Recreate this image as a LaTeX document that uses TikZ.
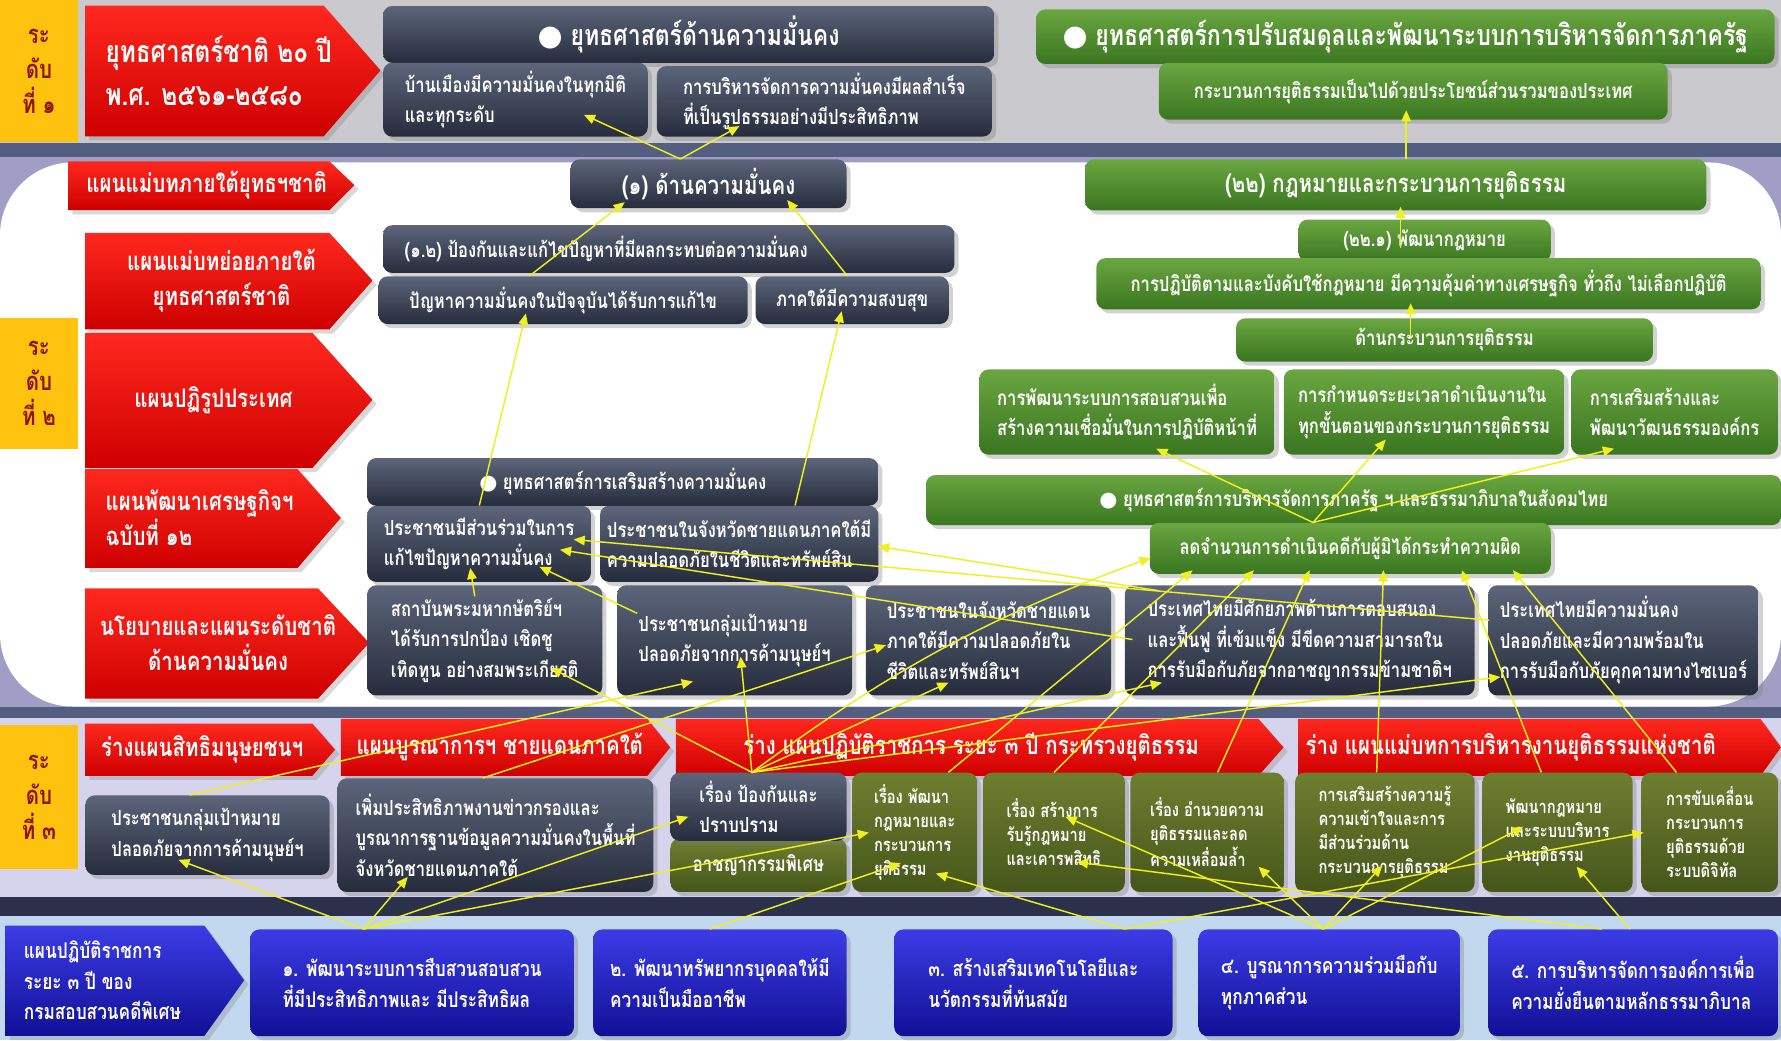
\documentclass[tikz,border=0pt]{standalone}
\usepackage{fontspec}
\setmainfont[Script=Thai,FakeStretch=0.8]{Loma}
\newfontfamily\symfnt{DejaVu Sans}
\usetikzlibrary{calc,shadows,arrows.meta}
\definecolor{bandgray}{RGB}{201,201,206}
\definecolor{bandline}{RGB}{84,94,128}
\definecolor{lavender}{RGB}{160,158,196}
\definecolor{bandthree}{RGB}{214,212,236}
\definecolor{navyline}{RGB}{43,49,74}
\definecolor{bandfour}{RGB}{193,216,238}
\definecolor{darktop}{RGB}{92,101,122}
\definecolor{darkbot}{RGB}{38,44,60}
\definecolor{greentop}{RGB}{106,166,64}
\definecolor{greenbot}{RGB}{58,118,32}
\definecolor{olivetop}{RGB}{110,126,48}
\definecolor{olivebot}{RGB}{70,86,26}
\definecolor{bluetop}{RGB}{60,60,230}
\definecolor{bluebot}{RGB}{16,16,150}
\definecolor{redtop}{RGB}{255,40,30}
\definecolor{redbot}{RGB}{205,0,0}
\definecolor{levelyellow}{RGB}{255,194,14}
\definecolor{leveltext}{RGB}{140,20,0}
\definecolor{linkyellow}{RGB}{240,240,30}
\newdimen\pu \pu=0.025cm
\newcommand{\fntBig}{\bfseries\fontsize{19}{27}\selectfont}
\newcommand{\fntHead}{\bfseries\fontsize{18}{22}\selectfont}
\newcommand{\fntTag}{\bfseries\fontsize{16}{22}\selectfont}
\newcommand{\fntMid}{\bfseries\fontsize{13.5}{19}\selectfont}
\newcommand{\fntBox}{\bfseries\fontsize{13}{19}\selectfont}
\newcommand{\fntSmall}{\bfseries\fontsize{11.5}{15}\selectfont}
\newcommand{\numdot}{{\symfnt ●}\ }
\tikzset{
  box/.style={rounded corners=0.2cm, anchor=north west, inner xsep=6\pu, inner ysep=1\pu,
    text=white, font=\fntBox, align=left, drop shadow={opacity=0.35}},
  darkbox/.style={box, top color=darktop, bottom color=darkbot},
  greenbox/.style={box, top color=greentop, bottom color=greenbot},
  olivebox/.style={box, top color=olivetop, bottom color=olivebot, font=\fntSmall},
  bluebox/.style={box, top color=bluetop, bottom color=bluebot, font=\fntMid},
  headbox/.style={align=center, font=\fntHead},
  levelbox/.style={anchor=north west, fill=levelyellow, text=leveltext, font=\fntTag, align=center, inner sep=0pt},
  redtag/.style={top color=redtop, bottom color=redbot, drop shadow={opacity=0.3}},
  bluetag/.style={top color=bluetop, bottom color=bluebot, drop shadow={opacity=0.3}},
  tagtext/.style={text=white, font=\fntTag, align=center},
  link/.style={draw=linkyellow, line width=0.9pt, -{Triangle[length=7pt,width=6pt]}},
}
\begin{document}
\begin{tikzpicture}[x=\pu, y=-\pu]
\useasboundingbox (0,0) rectangle (1568,916);
% bands
\fill[bandgray] (0,0) rectangle (1568,130);
\fill[bandline] (0,126) rectangle (1568,140);
\fill[lavender] (0,138) rectangle (1568,628);
\fill[white, rounded corners=1.6cm] (0,143) rectangle (1568,622);
\fill[bandline] (0,622) rectangle (1568,632);
\fill[bandthree] (0,632) rectangle (1568,790);
\fill[navyline] (0,790) rectangle (1568,806);
\fill[bandfour] (0,806) rectangle (1568,916);

% level 1
\node (lvA) [levelbox, minimum width=68\pu, minimum height=125\pu] at (0,0) {ระ\\ดับ\\ที่ ๑};
\shade[redtag] (75,5) -- (285,5) -- (335,62) -- (285,120) -- (75,120) -- cycle;
\node (tagA) [tagtext, anchor=west, align=left, font=\fntBig] at (88,62) {ยุทธศาสตร์ชาติ ๒๐ ปี\\พ.ศ. ๒๕๖๑-๒๕๘๐};
\node (secHead) [darkbox, headbox, minimum width=538\pu, minimum height=50\pu] at (337,5) {\numdot ยุทธศาสตร์ด้านความมั่นคง};
\node (secS1) [darkbox, minimum width=233\pu, minimum height=65\pu] at (337,55) {บ้านเมืองมีความมั่นคงในทุกมิติ\\และทุกระดับ};
\node (secS2) [darkbox, minimum width=295\pu, minimum height=62\pu] at (578,58) {การบริหารจัดการความมั่นคงมีผลสำเร็จ\\ที่เป็นรูปธรรมอย่างมีประสิทธิภาพ};
\node (balHead) [greenbox, headbox, minimum width=650\pu, minimum height=48\pu] at (912,8) {\numdot ยุทธศาสตร์การปรับสมดุลและพัฒนาระบบการบริหารจัดการภาครัฐ};
\node (balS) [greenbox, align=center, minimum width=448\pu, minimum height=50\pu] at (1020,55) {กระบวนการยุติธรรมเป็นไปด้วยประโยชน์ส่วนรวมของประเทศ};

% level 2
\node (lvB) [levelbox, minimum width=68\pu, minimum height=115\pu] at (0,280) {ระ\\ดับ\\ที่ ๒};
\shade[redtag] (60,142) -- (290,142) -- (312,163) -- (290,185) -- (60,185) -- cycle;
\node (tagB1) [tagtext] at (182,163) {แผนแม่บทภายใต้ยุทธฯชาติ};
\shade[redtag] (75,205) -- (290,205) -- (328,247) -- (290,290) -- (75,290) -- cycle;
\node (tagB2) [tagtext] at (195,247) {แผนแม่บทย่อยภายใต้\\ยุทธศาสตร์ชาติ};
\shade[redtag] (75,293) -- (275,293) -- (328,352) -- (275,412) -- (75,412) -- cycle;
\node (tagB3) [tagtext] at (188,352) {แผนปฏิรูปประเทศ};
\shade[redtag] (75,413) -- (262,413) -- (300,456) -- (262,500) -- (75,500) -- cycle;
\node (tagB4) [tagtext, anchor=west, align=left] at (88,456) {แผนพัฒนาเศรษฐกิจฯ\\ฉบับที่ ๑๒};
\shade[redtag] (75,518) -- (280,518) -- (325,566) -- (280,615) -- (75,615) -- cycle;
\node (tagB5) [tagtext] at (192,566) {นโยบายและแผนระดับชาติ\\ด้านความมั่นคง};

\node (sec1) [darkbox, align=center, font=\fntTag, minimum width=243\pu, minimum height=43\pu] at (502,140) {(๑) ด้านความมั่นคง};
\node (sec12) [darkbox, minimum width=503\pu, minimum height=42\pu] at (337,198) {(๑.๒) ป้องกันและแก้ไขปัญหาที่มีผลกระทบต่อความมั่นคง\hspace{110\pu}};
\node (sec12a) [darkbox, minimum width=325\pu, minimum height=42\pu] at (333,243) {ปัญหาความมั่นคงในปัจจุบันได้รับการแก้ไข};
\node (sec12b) [darkbox, minimum width=170\pu, minimum height=42\pu] at (665,243) {ภาคใต้มีความสงบสุข};
\node (strHead) [darkbox, align=center, minimum width=450\pu, minimum height=42\pu] at (323,403) {\numdot ยุทธศาสตร์การเสริมสร้างความมั่นคง};
\node (strA) [darkbox, minimum width=197\pu, minimum height=67\pu] at (323,445) {ประชาชนมีส่วนร่วมในการ\\แก้ไขปัญหาความมั่นคง};
\node (strB) [darkbox, minimum width=245\pu, minimum height=67\pu] at (528,445) {ประชาชนในจังหวัดชายแดนภาคใต้มี\\ความปลอดภัยในชีวิตและทรัพย์สิน};
\node (natA) [darkbox, minimum width=207\pu, minimum height=97\pu] at (323,515) {สถาบันพระมหากษัตริย์ฯ\\ได้รับการปกป้อง เชิดชู\\เทิดทูน อย่างสมพระเกียรติ};
\node (natB) [darkbox, minimum width=207\pu, minimum height=97\pu] at (543,515) {ประชาชนกลุ่มเป้าหมาย\\ปลอดภัยจากการค้ามนุษย์ฯ};
\node (natC) [darkbox, minimum width=216\pu, minimum height=97\pu] at (762,515) {ประชาชนในจังหวัดชายแดน\\ภาคใต้มีความปลอดภัยใน\\ชีวิตและทรัพย์สินฯ};
\node (natD) [darkbox, minimum width=308\pu, minimum height=97\pu] at (990,515) {ประเทศไทยมีศักยภาพด้านการตอบสนอง\\และฟื้นฟู ที่เข้มแข็ง มีขีดความสามารถใน\\การรับมือกับภัยจากอาชญากรรมข้ามชาติฯ};
\node (natE) [darkbox, minimum width=238\pu, minimum height=97\pu] at (1310,515) {ประเทศไทยมีความมั่นคง\\ปลอดภัยและมีความพร้อมใน\\การรับมือกับภัยคุกคามทางไซเบอร์};

\node (law22) [greenbox, align=center, font=\fntTag, minimum width=547\pu, minimum height=45\pu] at (955,140) {(๒๒) กฎหมายและกระบวนการยุติธรรม};
\node (law221) [greenbox, align=center, minimum width=222\pu, minimum height=37\pu] at (1143,193) {(๒๒.๑) พัฒนากฎหมาย};
\node (lawObj) [greenbox, align=center, minimum width=585\pu, minimum height=45\pu] at (965,227) {การปฏิบัติตามและบังคับใช้กฎหมาย มีความคุ้มค่าทางเศรษฐกิจ ทั่วถึง ไม่เลือกปฏิบัติ};
\node (lawProc) [greenbox, align=center, minimum width=367\pu, minimum height=38\pu] at (1088,280) {ด้านกระบวนการยุติธรรม};
\node (jusA) [greenbox, minimum width=260\pu, minimum height=75\pu] at (862,325) {การพัฒนาระบบการสอบสวนเพื่อ\\สร้างความเชื่อมั่นในการปฏิบัติหน้าที่};
\node (jusB) [greenbox, minimum width=247\pu, minimum height=75\pu] at (1130,325) {การกำหนดระยะเวลาดำเนินงานใน\\ทุกขั้นตอนของกระบวนการยุติธรรม};
\node (jusC) [greenbox, minimum width=182\pu, minimum height=75\pu] at (1383,325) {การเสริมสร้างและ\\พัฒนาวัฒนธรรมองค์กร};
\node (govHead) [greenbox, align=center, minimum width=753\pu, minimum height=44\pu] at (815,418) {\numdot ยุทธศาสตร์การบริหารจัดการภาครัฐ ฯ และธรรมาภิบาลในสังคมไทย};
\node (govA) [greenbox, align=center, minimum width=353\pu, minimum height=45\pu] at (1012,460) {ลดจำนวนการดำเนินคดีกับผู้มิได้กระทำความผิด};

% level 3
\node (lvC) [levelbox, minimum width=68\pu, minimum height=127\pu] at (0,638) {ระ\\ดับ\\ที่ ๓};
\shade[redtag] (75,637) -- (275,637) -- (295,660) -- (275,683) -- (75,683) -- cycle;
\node (tagC1) [tagtext] at (178,660) {ร่างแผนสิทธิมนุษยชนฯ};
\shade[redtag] (300,633) -- (570,633) -- (590,658) -- (570,683) -- (300,683) -- cycle;
\node (tagC2) [tagtext] at (440,658) {แผนบูรณาการฯ ชายแดนภาคใต้};
\shade[redtag] (595,633) -- (1108,633) -- (1130,658) -- (1108,683) -- (595,683) -- cycle;
\node (tagC3) [tagtext] at (855,658) {ร่าง แผนปฏิบัติราชการ ระยะ ๓ ปี กระทรวงยุติธรรม};
\shade[redtag] (1143,633) -- (1550,633) -- (1568,658) -- (1550,683) -- (1143,683) -- cycle;
\node (tagC4) [tagtext] at (1330,658) {ร่าง แผนแม่บทการบริหารงานยุติธรรมแห่งชาติ};

\node (hrA) [darkbox, minimum width=215\pu, minimum height=70\pu] at (75,700) {ประชาชนกลุ่มเป้าหมาย\\ปลอดภัยจากการค้ามนุษย์ฯ};
\node (intA) [darkbox, minimum width=278\pu, minimum height=100\pu] at (297,685) {เพิ่มประสิทธิภาพงานข่าวกรองและ\\บูรณาการฐานข้อมูลความมั่นคงในพื้นที่\\จังหวัดชายแดนภาคใต้};
\node (mojA2) [olivebox, font=\fntBox, align=center, minimum width=155\pu, minimum height=47\pu] at (590,738) {อาชญากรรมพิเศษ};
\node (mojA) [darkbox, minimum width=155\pu, minimum height=60\pu] at (590,680) {เรื่อง ป้องกันและ\\ปราบปราม\hspace{20\pu}};
\node (mojB) [olivebox, minimum width=110\pu, minimum height=105\pu] at (750,680) {เรื่อง พัฒนา\\กฎหมายและ\\กระบวนการ\\ยุติธรรม};
\node (mojC) [olivebox, minimum width=125\pu, minimum height=105\pu] at (865,680) {เรื่อง สร้างการ\\รับรู้กฎหมาย\\และเคารพสิทธิ};
\node (mojD) [olivebox, minimum width=135\pu, minimum height=105\pu] at (995,680) {เรื่อง อำนวยความ\\ยุติธรรมและลด\\ความเหลื่อมล้ำ};
\node (njA) [olivebox, minimum width=158\pu, minimum height=105\pu] at (1140,680) {การเสริมสร้างความรู้\\ความเข้าใจและการ\\มีส่วนร่วมด้าน\\กระบวนการยุติธรรม};
\node (njB) [olivebox, minimum width=132\pu, minimum height=105\pu] at (1305,680) {พัฒนากฎหมาย\\และระบบบริหาร\\งานยุติธรรม};
\node (njC) [olivebox, minimum width=120\pu, minimum height=105\pu] at (1445,680) {การขับเคลื่อน\\กระบวนการ\\ยุติธรรมด้วย\\ระบบดิจิทัล};

% DSI action plan
\shade[bluetag] (5,815) -- (180,815) -- (215,863) -- (180,912) -- (5,912) -- cycle;
\node (tagD) [tagtext, font=\fntMid, anchor=west, align=left] at (16,863) {แผนปฏิบัติราชการ\\ระยะ ๓ ปี ของ\\กรมสอบสวนคดีพิเศษ};
\node (dsi1) [bluebox, minimum width=285\pu, minimum height=94\pu] at (220,818) {๑. พัฒนาระบบการสืบสวนสอบสวน\\ที่มีประสิทธิภาพและ มีประสิทธิผล};
\node (dsi2) [bluebox, minimum width=223\pu, minimum height=94\pu] at (522,818) {๒. พัฒนาทรัพยากรบุคคลให้มี\\ความเป็นมืออาชีพ};
\node (dsi3) [bluebox, minimum width=245\pu, minimum height=94\pu] at (787,818) {๓. สร้างเสริมเทคโนโลยีและ\\นวัตกรรมที่ทันสมัย};
\node (dsi4) [bluebox, minimum width=230\pu, minimum height=94\pu] at (1055,818) {๔. บูรณาการความร่วมมือกับ\\ทุกภาคส่วน};
\node (dsi5) [bluebox, minimum width=255\pu, minimum height=94\pu] at (1310,818) {๕. การบริหารจัดการองค์การเพื่อ\\ความยั่งยืนตามหลักธรรมาภิบาล};

% links, top part
\draw [link] ($(sec1.north west)+(97,0)$) -- ($(secS1.north west)+(177,46)$);
\draw [link] ($(sec1.north west)+(97,0)$) -- ($(secS2.north west)+(73,53)$);
\draw [link] ($(law22.north west)+(283,0)$) -- ($(balS.north west)+(218,42)$);
\draw [link] ($(sec12a.north west)+(133,0)$) -- ($(sec1.north west)+(48,38)$);
\draw [link] ($(sec12b.north west)+(81,0)$) -- ($(sec1.north west)+(191,36)$);
\draw [link] ($(strA.north west)+(99,0)$) -- ($(sec12a.north west)+(130,33)$);
\draw [link] ($(strB.north west)+(172,0)$) -- ($(sec12b.north west)+(76,31)$);
\draw [link] ($(law221.north west)+(90,25)$) -- ($(law22.north west)+(278,42)$);
\draw [link] ($(lawProc.north west)+(154,17)$) -- ($(lawObj.north west)+(277,40)$);
\draw [link] ($(govA.north west)+(144,0)$) -- ($(jusA.north west)+(156,70)$);
\draw [link] ($(govA.north west)+(144,0)$) -- ($(jusB.north west)+(90,62)$);
\draw [link] ($(govA.north west)+(144,0)$) -- ($(jusC.north west)+(38,70)$);
% links into level 2
\draw [link] ($(natA.north west)+(95,10)$) -- ($(strA.north west)+(91,55)$);
\draw [link] ($(natB.north west)+(18,25)$) -- ($(strA.north west)+(152,54)$);
\draw [link] ($(natD.north west)+(7,48)$) -- ($(strA.north west)+(170,39)$);
\draw [link] ($(natE.north west)+(1,31)$) -- ($(strA.north west)+(182,30)$);
\draw [link] ($(natD.north west)+(30,5)$) -- ($(strB.north west)+(245,36)$);
\draw [link] ($(hrA.north west)+(92,0)$) -- ($(natB.north west)+(67,85)$);
\draw [link] ($(intA.north west)+(128,0)$) -- ($(natC.north west)+(18,53)$);
\draw [link] ($(mojA.north west)+(72,0)$) -- ($(natA.north west)+(162,73)$);
\draw [link] ($(mojA.north west)+(72,0)$) -- ($(natB.north west)+(109,63)$);
\draw [link] ($(mojA.north west)+(72,0)$) -- ($(natC.north west)+(73,86)$);
\draw [link] ($(mojA.north west)+(72,0)$) -- ($(natD.north west)+(33,86)$);
\draw [link] ($(mojA.north west)+(72,0)$) -- ($(natE.north west)+(11,81)$);
\draw [link] ($(mojA.north west)+(72,0)$) to[bend left=8] ($(govA.north west)+(1,31)$);
\draw [link] ($(mojB.north west)+(85,0)$) -- ($(govA.north west)+(38,42)$);
\draw [link] ($(mojC.north west)+(63,0)$) -- ($(govA.north west)+(92,42)$);
\draw [link] ($(mojD.north west)+(77,0)$) -- ($(govA.north west)+(141,42)$);
\draw [link] ($(njA.north west)+(72,0)$) -- ($(govA.north west)+(206,42)$);
\draw [link] ($(njB.north west)+(52,0)$) -- ($(govA.north west)+(275,42)$);
\draw [link] ($(njC.north west)+(31,0)$) -- ($(govA.north west)+(320,42)$);
% links into level 3
\draw [link] ($(dsi1.north west)+(100,0)$) -- ($(hrA.north west)+(82,57)$);
\draw [link] ($(dsi1.north west)+(100,0)$) -- ($(intA.north west)+(62,87)$);
\draw [link] ($(dsi1.north west)+(100,0)$) -- ($(mojA.north west)+(16,39)$);
\draw [link] ($(dsi1.north west)+(100,0)$) -- ($(mojB.north west)+(15,53)$);
\draw [link] ($(dsi2.north west)+(103,0)$) -- ($(mojB.north west)+(43,80)$);
\draw [link] ($(dsi3.north west)+(203,0)$) -- ($(mojB.north west)+(74,89)$);
\draw [link] ($(dsi3.north west)+(203,0)$) -- ($(njC.north west)+(2,53)$);
\draw [link] ($(dsi4.north west)+(110,0)$) -- ($(mojC.north west)+(73,39)$);
\draw [link] ($(dsi4.north west)+(110,0)$) -- ($(mojD.north west)+(113,83)$);
\draw [link] ($(dsi4.north west)+(110,0)$) -- ($(njA.north west)+(77,82)$);
\draw [link] ($(dsi4.north west)+(110,0)$) -- ($(njB.north west)+(36,48)$);
\draw [link] ($(dsi5.north west)+(100,0)$) -- ($(mojC.north west)+(83,79)$);
\draw [link] ($(dsi5.north west)+(125,0)$) -- ($(njB.north west)+(83,83)$);
\end{tikzpicture}
\end{document}
